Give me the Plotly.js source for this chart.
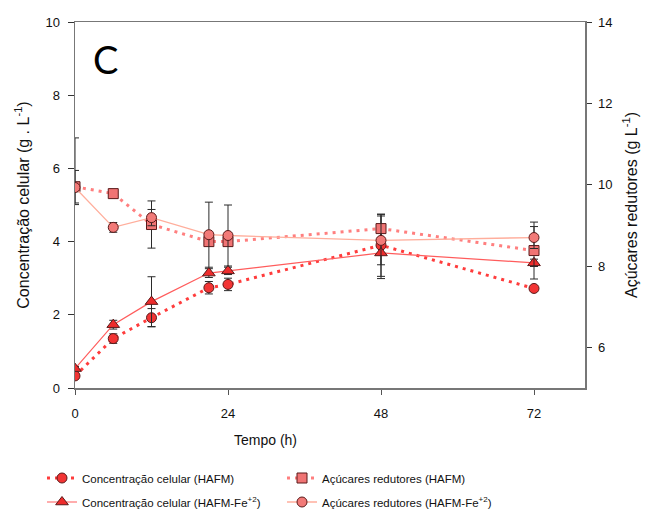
<!DOCTYPE html>
<html>
<head>
<meta charset="utf-8">
<script src="https://cdn.plot.ly/plotly-3.0.1.min.js"></script>
<style>html,body{margin:0;padding:0;background:#fff;}#chart{width:649px;height:514px;}</style>
</head>
<body>
<div id="chart"></div>
<script>
// Time points (h)
const tempo = [0, 6, 12, 21, 24, 48, 72];
const xTicks = [0, 24, 48, 72];

// Cell concentration (g/L) - left axis
const celHAFM = [0.33, 1.35, 1.92, 2.74, 2.83, 3.9, 2.72];
const celHAFMerr = [0.08, 0.13, 0.25, 0.17, 0.17, 0.85, 0.03];
const celFe = [0.53, 1.73, 2.36, 3.14, 3.2, 3.69, 3.42];
const celFeErr = [0.06, 0.12, 0.68, 0.12, 0.1, 0.7, 0.1];

// Reducing sugars (g/L) - right axis
const acHAFM = [9.95, 9.78, 9.02, 8.6, 8.6, 8.92, 8.38];
const acHAFMerrPlus = [1.2, 0.1, 0.58, 0.1, 0.1, 0.35, 0.7];
const acHAFMerrMinus = [0.4, 0.1, 0.58, 0.1, 0.1, 0.35, 0.7];
const acFe = [9.93, 8.95, 9.19, 8.77, 8.75, 8.63, 8.7];
const acFeErr = [0.42, 0.12, 0.2, 0.8, 0.75, 0.6, 0.27];

const names = [
  'Concentração celular (HAFM)',
  'Açúcares redutores (HAFM)',
  'Concentração celular (HAFM-Fe<sup>+2</sup>)',
  'Açúcares redutores (HAFM-Fe<sup>+2</sup>)'
];

function eb(arr, minus) {
  const o = {type: 'data', array: arr, color: '#2a2a2a', thickness: 1, width: 4, visible: true};
  if (minus) { o.symmetric = false; o.arrayminus = minus; }
  return o;
}

const traces = [
  {
    x: tempo, y: celHAFM, name: names[0], yaxis: 'y', legend: 'legend', mode: 'lines+markers',
    line: {color: '#ff3c3c', width: 3, dash: '3px,5px'},
    marker: {symbol: 'circle', size: 10, color: '#f23434', line: {color: '#5a1a1a', width: 1}},
    error_y: eb(celHAFMerr)
  },
  {
    x: tempo, y: acHAFM, name: names[1], yaxis: 'y2', legend: 'legend', mode: 'lines+markers',
    line: {color: '#ff7f7f', width: 3, dash: '3px,5px'},
    marker: {symbol: 'square', size: 10, color: '#f07474', line: {color: '#5a1a1a', width: 1}},
    error_y: eb(acHAFMerrPlus, acHAFMerrMinus)
  },
  {
    x: tempo, y: celFe, name: names[2], yaxis: 'y', legend: 'legend2', mode: 'lines+markers',
    line: {color: '#ff5c5c', width: 1.2},
    marker: {symbol: 'triangle-up', size: 11, color: '#ee2c2c', line: {color: '#5a1a1a', width: 1}},
    error_y: eb(celFeErr)
  },
  {
    x: tempo, y: acFe, name: names[3], yaxis: 'y2', legend: 'legend2', mode: 'lines+markers',
    line: {color: '#ffae9c', width: 1.3},
    marker: {symbol: 'circle', size: 10, color: '#f27a78', line: {color: '#5a1a1a', width: 1}},
    error_y: eb(acFeErr)
  }
];

const FAM = 'Liberation Sans, Arial, sans-serif';
const axisFont = {family: FAM, size: 13, color: '#111'};
const legFont = {family: FAM, size: 11.5, color: '#111'};

function legendAt(yPix) {
  return {
    orientation: 'h', xref: 'container', yref: 'container',
    x: 42 / 649, xanchor: 'left', y: 1 - yPix / 514, yanchor: 'middle',
    entrywidth: 195, entrywidthmode: 'pixels',
    font: legFont, bgcolor: 'rgba(0,0,0,0)', borderwidth: 0
  };
}

const layout = {
  width: 649, height: 514,
  margin: {l: 75, r: 64, t: 22, b: 126, autoexpand: false},
  paper_bgcolor: '#fff', plot_bgcolor: '#fff',
  font: axisFont,
  showlegend: true,
  xaxis: {
    range: [0, 80], tickvals: xTicks, ticktext: xTicks.map(String),
    showgrid: false, zeroline: false, showline: true, linecolor: '#777', linewidth: 1.5,
    mirror: true, ticks: 'outside', ticklen: 5, tickcolor: '#555', tickfont: axisFont,
    ticklabelstandoff: 8
  },
  yaxis: {
    range: [0, 10], tickvals: [0, 2, 4, 6, 8, 10],
    showgrid: false, zeroline: false, showline: true, linecolor: '#777', linewidth: 1.5,
    ticks: 'outside', ticklen: 6, tickcolor: '#333', tickfont: axisFont,
    ticklabelstandoff: 5,
    title: {text: 'Concentração celular (g . L<sup>-1</sup>)', font: {family: FAM, size: 16, color: '#111'}, standoff: 12}
  },
  yaxis2: {
    range: [5, 14], tickvals: [6, 8, 10, 12, 14], overlaying: 'y', side: 'right',
    showgrid: false, zeroline: false, showline: true, linecolor: '#777', linewidth: 1.5,
    ticks: 'outside', ticklen: 5, tickcolor: '#333', tickfont: axisFont,
    ticklabelstandoff: 4,
    title: {text: 'Açúcares redutores (g L<sup>-1</sup>)', font: {family: FAM, size: 16, color: '#111'}, standoff: 14}
  },
  legend: legendAt(478),
  legend2: legendAt(502),
  annotations: [
    {text: 'C', xref: 'paper', yref: 'paper', x: 0.059, y: 0.90, xanchor: 'center', yanchor: 'middle',
     showarrow: false, font: {family: 'Lato, Open Sans, sans-serif', size: 38, color: '#000'}},
    {text: 'Tempo (h)', xref: 'paper', yref: 'paper', x: 0.3745, y: -0.142, xanchor: 'center', yanchor: 'middle',
     showarrow: false, font: {family: FAM, size: 14, color: '#111'}}
  ]
};

Plotly.newPlot('chart', traces, layout, {displayModeBar: false, staticPlot: true});
</script>
</body>
</html>
